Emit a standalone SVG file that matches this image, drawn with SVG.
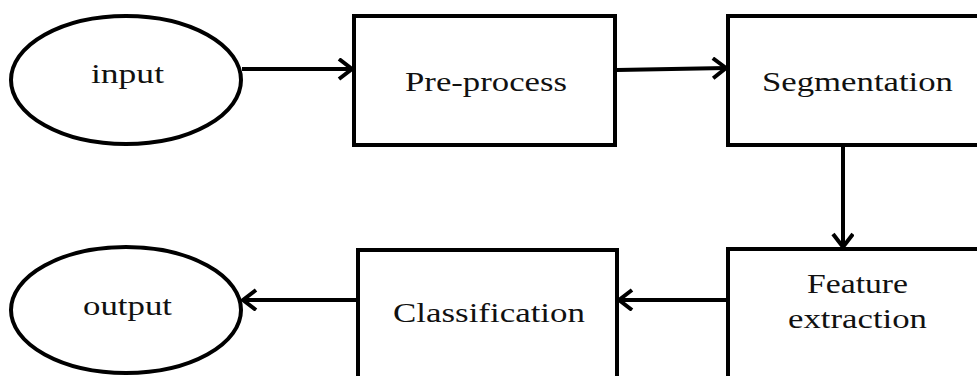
<svg xmlns="http://www.w3.org/2000/svg" width="977" height="376" viewBox="0 0 977 376">
<style>
.shape{fill:#fff;stroke:#000;stroke-width:4}
.lbl{font-family:"Liberation Serif","DejaVu Serif",serif;font-size:28px;fill:#111;text-anchor:start}
.conn{fill:none;stroke:#000;stroke-width:4}
</style>
<defs>
<marker id="arr" markerUnits="userSpaceOnUse" markerWidth="22" markerHeight="26" refX="15" refY="11" orient="auto">
<path d="M2,1 L15,11 L2,21" fill="none" stroke="#000" stroke-width="4" stroke-linejoin="miter"/>
</marker>
</defs>
<rect width="977" height="376" fill="#fff"/>
<g id="input">
<ellipse class="shape" cx="126" cy="80" rx="115" ry="64"/>
<text class="lbl" x="91" y="83" textLength="73" lengthAdjust="spacingAndGlyphs">input</text>
</g>
<g id="preprocess">
<rect class="shape" x="354" y="16" width="261" height="129"/>
<text class="lbl" x="405" y="91" textLength="162" lengthAdjust="spacingAndGlyphs">Pre-process</text>
</g>
<g id="segmentation">
<rect class="shape" x="728" y="16" width="260" height="129"/>
<text class="lbl" x="762" y="91" textLength="191" lengthAdjust="spacingAndGlyphs">Segmentation</text>
</g>
<g id="feature">
<rect class="shape" x="728" y="249" width="260" height="140"/>
<text class="lbl" x="807" y="293" textLength="101" lengthAdjust="spacingAndGlyphs">Feature</text>
<text class="lbl" x="788" y="328" textLength="139" lengthAdjust="spacingAndGlyphs">extraction</text>
</g>
<g id="classification">
<rect class="shape" x="358" y="250" width="259" height="140"/>
<text class="lbl" x="393" y="322" textLength="192" lengthAdjust="spacingAndGlyphs">Classification</text>
</g>
<g id="output">
<ellipse class="shape" cx="126" cy="310" rx="115" ry="63"/>
<text class="lbl" x="83" y="315" textLength="89" lengthAdjust="spacingAndGlyphs">output</text>
</g>
<g id="connectors">
<line class="conn" x1="242" y1="69" x2="352" y2="69" marker-end="url(#arr)"/>
<line class="conn" x1="617" y1="70" x2="726" y2="68" marker-end="url(#arr)"/>
<line class="conn" x1="843" y1="146" x2="843" y2="247" marker-end="url(#arr)"/>
<line class="conn" x1="727" y1="300" x2="619" y2="300" marker-end="url(#arr)"/>
<line class="conn" x1="357" y1="300" x2="243" y2="300" marker-end="url(#arr)"/>
</g>
</svg>
